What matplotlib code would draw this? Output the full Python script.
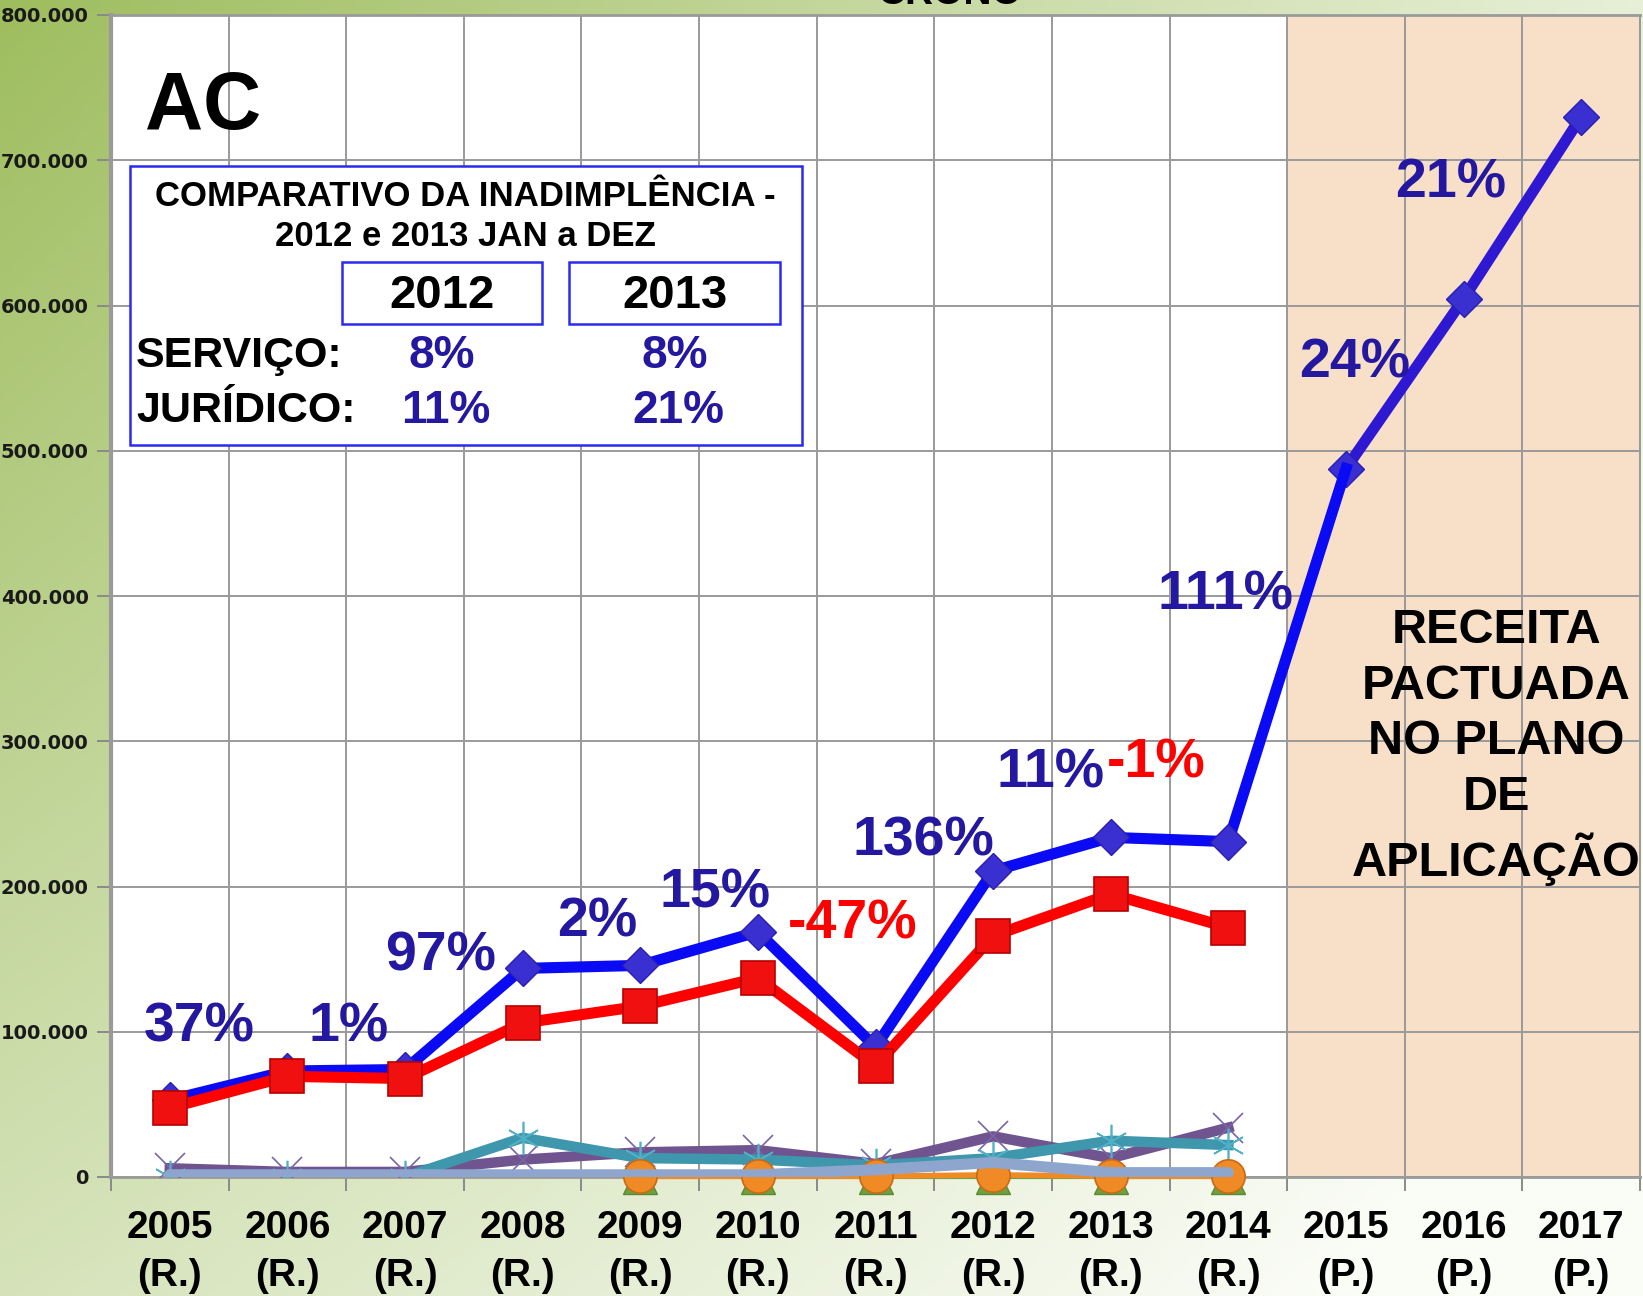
import numpy as np
import matplotlib
matplotlib.use("Agg")
import matplotlib.pyplot as plt
from matplotlib.patches import Rectangle
from matplotlib.ticker import FuncFormatter

# ---- data ----
years = ["2005", "2006", "2007", "2008", "2009", "2010", "2011",
         "2012", "2013", "2014", "2015", "2016", "2017"]
kind = ["R.", "R.", "R.", "R.", "R.", "R.", "R.", "R.", "R.", "R.", "P.", "P.", "P."]

receita_total = [53000, 73000, 74000, 143600, 145700, 168800, 89500,
                 210700, 233800, 230900, 487700, 604600, 730000]
receita_servico = [47600, 69300, 67800, 106000, 117600, 137000, 76500,
                   166000, 194800, 171700]
serie_roxa = [6000, 3500, 3500, 12000, 17000, 18500, 9000, 28000, 13000, 34000]
serie_verde_agua = [0, 0, 0, 27000, 13000, 12000, 8000, 13000, 25000, 22000]
serie_laranja = [np.nan, np.nan, np.nan, np.nan, 500, 500, 500, 1500, 500, 500]
serie_verde = [np.nan, np.nan, np.nan, np.nan, 0, 0, 0, 0, 0, 0]
serie_azul_clara = [1500, 1500, 1500, 1500, 1500, 1500, 5000, 10000, 3000, 3000]

# growth labels: (text, x, y, colour)
rotulos = [("37%", 0.25, 103000, "azul"), ("1%", 1.52, 103000, "azul"),
           ("97%", 2.3, 152000, "azul"), ("2%", 3.63, 175000, "azul"),
           ("15%", 4.64, 195000, "azul"), ("-47%", 5.81, 174000, "vermelho"),
           ("136%", 6.41, 231000, "azul"), ("11%", 7.49, 278000, "azul"),
           ("-1%", 8.39, 285000, "vermelho"), ("111%", 8.98, 400000, "azul"),
           ("24%", 10.07, 560000, "azul"), ("21%", 10.89, 684000, "azul")]

inadimplencia_anos = ["2012", "2013"]
inadimplencia_servico = ["8%", "8%"]
inadimplencia_juridico = ["11%", "21%"]

ARIAL = ["Liberation Sans", "DejaVu Sans"]

W, H = 1643, 1296
fig = plt.figure(figsize=(W / 100, H / 100), dpi=100)


def fx(px):
    return px / W


def fy(py):
    return 1 - py / H


# background gradient (green top-left fading to white)
gx, gy = np.meshgrid(np.linspace(0, 1, 300), np.linspace(0, 1, 300))
d = np.clip(1 - 0.6 * gy - 0.8 * gx + 0.3 * gx * gy, 0, 1)[..., None]
green = np.array([0x9e, 0xbd, 0x5e]) / 255
white = np.array([0xfa, 0xfc, 0xf6]) / 255
bg = fig.add_axes([0, 0, 1, 1], zorder=-10)
bg.imshow(white * (1 - d) + green * d, aspect="auto", extent=[0, 1, 1, 0])
bg.set_axis_off()

# title cut by the top edge, as in the original slide
fig.text(fx(950), fy(4), "CRONO", ha="center", va="baseline",
         fontsize=28, fontweight="bold", family=ARIAL, color="black")

ax = fig.add_axes([fx(111), fy(1177), fx(1640) - fx(111), fy(15) - fy(1177)])
ax.set_facecolor("white")
x = np.arange(len(years))
ax.set_xlim(-0.5, len(years) - 0.5)
ax.set_ylim(0, 800000)

ax.axvspan(9.5, 12.5, color="#f8dfc8", zorder=0.2, lw=0)

ax.set_axisbelow(True)
ax.set_xticks(np.arange(-0.5, len(years), 1))
ax.set_xticklabels([])
ax.set_xticks(x, minor=True)
ax.set_xticklabels([f"{a}\n({k})" for a, k in zip(years, kind)], minor=True)
ax.set_yticks(np.arange(0, 800001, 100000))
ax.yaxis.set_major_formatter(FuncFormatter(
    lambda v, p: "0" if v == 0 else f"{int(v):,}".replace(",", ".")))
ax.grid(True, which="major", color="#9a9a9a", lw=1.4)
ax.tick_params(axis="x", which="major", length=10, width=1.4, color="#8a8a8a")
ax.tick_params(axis="x", which="minor", length=0, pad=24)
ax.tick_params(axis="y", length=10, width=1.4, color="#8a8a8a", pad=6)
for lab in ax.get_xticklabels(minor=True):
    lab.set_fontfamily(ARIAL)
    lab.set_fontsize(28)
    lab.set_fontweight("bold")
    lab.set_linespacing(1.4)
for lab in ax.get_yticklabels():
    lab.set_fontfamily("DejaVu Sans")
    lab.set_fontsize(14)
    lab.set_fontweight("bold")
    lab.set_color("#1a1a1a")
for s in ["left", "bottom", "top", "right"]:
    ax.spines[s].set_color("#9a9a9a")
ax.spines["left"].set_linewidth(3)
ax.spines["top"].set_linewidth(2)
ax.spines["bottom"].set_linewidth(2)
ax.spines["right"].set_linewidth(1.4)

n = len(receita_servico)
xr = x[:n]

# small series near zero
ax.plot(xr, serie_roxa, color="#6f5490", lw=7.5, marker="x", ms=22, mew=1.2,
        mec="#7a64a8", zorder=3, solid_joinstyle="round")
ax.plot(xr, serie_verde_agua, color="#3f97ad", lw=7.5, marker=(6, 2, 0), ms=24,
        mew=1.2, mec="#50b0c8", zorder=3.2, solid_joinstyle="round")
ax.plot(xr, serie_verde, color="#6fa040", lw=3, marker="^", ms=24, mfc="#6fa040",
        mec="#5a8a30", zorder=3.3, clip_on=False)
ax.plot(xr, serie_laranja, color="#f08a24", lw=4, marker="o", ms=24, mfc="#f08a24",
        mec="#c86a18", mew=1.2, zorder=3.4, clip_on=False)
ax.plot(xr, serie_azul_clara, color="#8ea6ce", lw=8, zorder=3.6,
        solid_joinstyle="round", solid_capstyle="round")

# main series
ax.plot(x[10:], receita_total[10:], color="#2e18d2", lw=8, marker="D", ms=18,
        mfc="#3a2fd0", mec="#2a20b0", zorder=4, solid_capstyle="round")
ax.plot(x[:11], receita_total[:11], color="#0a0af5", lw=8, marker="D", ms=18,
        mfc="#3a2fd0", mec="#2a20b0", zorder=4.1, markevery=list(range(10)),
        solid_joinstyle="round")
ax.plot(xr, receita_servico, color="#ff0000", lw=8, marker="s", ms=24,
        mfc="#f01010", mec="#b80000", mew=1.2, zorder=5, solid_joinstyle="round")

cores = {"azul": "#2418a0", "vermelho": "#ff0000"}
for txt, tx, ty, c in rotulos:
    ax.text(tx, ty, txt, ha="center", va="center", fontsize=40, fontweight="bold",
            family=ARIAL, color=cores[c], zorder=6)

ax.text(11.28, 296000, "RECEITA\nPACTUADA\nNO PLANO\nDE\nAPLICAÇÃO", ha="center",
        va="center", fontsize=35, fontweight="bold", family=ARIAL, linespacing=1.3,
        color="black", zorder=6)

# "AC" and inadimplencia box
fig.text(fx(203), fy(108), "AC", ha="center", va="center", fontsize=58,
         fontweight="bold", family=ARIAL)
fig.add_artist(Rectangle((fx(130), fy(445)), fx(802) - fx(130), fy(166) - fy(445),
                         transform=fig.transFigure, facecolor="white",
                         edgecolor="#2a2af0", lw=1.8, zorder=7))
fig.text(fx(465), fy(197), "COMPARATIVO DA INADIMPLÊNCIA -", ha="center", va="center",
         fontsize=25, fontweight="bold", family=ARIAL, zorder=8)
fig.text(fx(465), fy(237), "2012 e 2013 JAN a DEZ", ha="center", va="center",
         fontsize=25, fontweight="bold", family=ARIAL, zorder=8)
for (x0, x1), ano, serv, jur in zip([(342, 542), (569, 780)], inadimplencia_anos,
                                    inadimplencia_servico, inadimplencia_juridico):
    fig.add_artist(Rectangle((fx(x0), fy(324)), fx(x1) - fx(x0), fy(262) - fy(324),
                             transform=fig.transFigure, facecolor="none",
                             edgecolor="#2a2af0", lw=1.8, zorder=8))
    cx = (x0 + x1) / 2
    fig.text(fx(cx), fy(296), ano, ha="center", va="center", fontsize=34,
             fontweight="bold", family=ARIAL, zorder=8)
    fig.text(fx(cx), fy(356), serv, ha="center", va="center", fontsize=33,
             fontweight="bold", family=ARIAL, color="#2418a0", zorder=8)
    fig.text(fx(cx + 4), fy(411), jur, ha="center", va="center", fontsize=33,
             fontweight="bold", family=ARIAL, color="#2418a0", zorder=8)
fig.text(fx(136), fy(356), "SERVIÇO:", ha="left", va="center", fontsize=31,
         fontweight="bold", family=ARIAL, zorder=8)
fig.text(fx(136), fy(411), "JURÍDICO:", ha="left", va="center", fontsize=31,
         fontweight="bold", family=ARIAL, zorder=8)

fig.savefig("out.png", dpi=100)
